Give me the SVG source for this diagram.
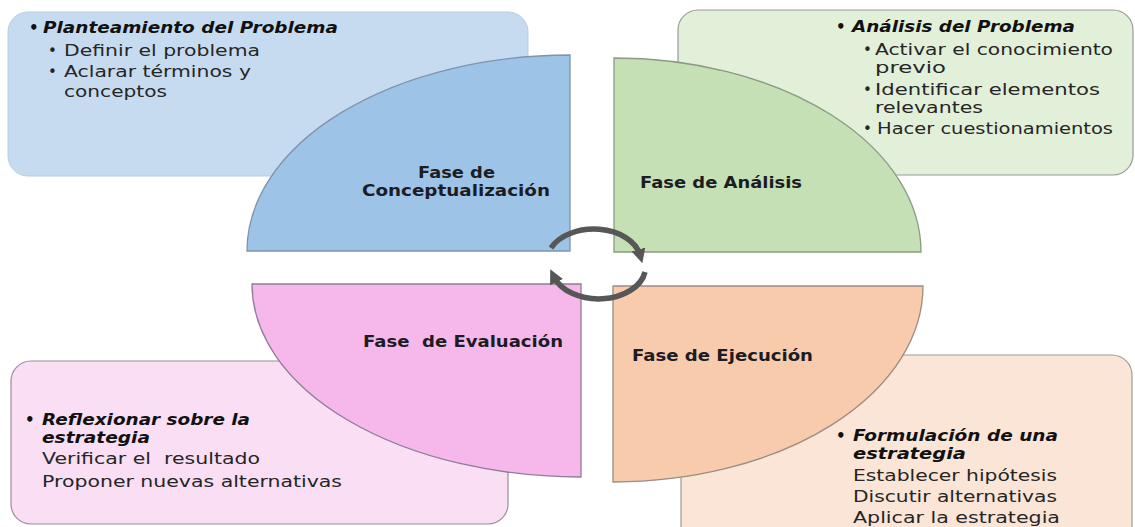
<svg xmlns="http://www.w3.org/2000/svg" width="1135" height="527" viewBox="0 0 1135 527">
<style>
.t{font-family:"DejaVu Sans","Open Sans",sans-serif;font-size:15px;fill:#262626}
.h{font-weight:bold;font-style:italic;fill:#111}
.lbl{font-weight:bold;fill:#1c1c24}
.pre{white-space:pre}
.arr{fill:none;stroke:#575757;stroke-width:5.5}
</style>
<defs>
<marker id="ah" viewBox="0 0 10 10" refX="4" refY="5" markerWidth="2.6" markerHeight="2.8" orient="auto" markerUnits="strokeWidth">
<path d="M0,0 L10,5 L0,10 z" fill="#575757"/>
</marker>
</defs>
<rect width="1135" height="527" fill="#ffffff"/>

<g id="box-planteamiento">
<rect x="8" y="12" width="520" height="164" rx="20" fill="#c7dbf0" stroke="#b9cde2" stroke-width="1"/>
<text class="t h" x="29" y="33">•</text>
<text class="t h" x="43" y="33" textLength="295" lengthAdjust="spacingAndGlyphs">Planteamiento del Problema</text>
<text class="t" x="48" y="56">•</text>
<text class="t" x="64" y="56" textLength="196" lengthAdjust="spacingAndGlyphs">Definir el problema</text>
<text class="t" x="48" y="77">•</text>
<text class="t" x="64" y="77" textLength="187" lengthAdjust="spacingAndGlyphs">Aclarar términos y</text>
<text class="t" x="64" y="97" textLength="103" lengthAdjust="spacingAndGlyphs">conceptos</text>
</g>

<g id="box-analisis">
<rect x="678" y="10" width="455" height="165" rx="20" fill="#e2efd9" stroke="#9a9a9a" stroke-width="1.2"/>
<text class="t h" x="836" y="32">•</text>
<text class="t h" x="852" y="32" textLength="223" lengthAdjust="spacingAndGlyphs">Análisis del Problema</text>
<text class="t" x="863" y="55">•</text>
<text class="t" x="875" y="55" textLength="238" lengthAdjust="spacingAndGlyphs">Activar el conocimiento</text>
<text class="t" x="875" y="73" textLength="71" lengthAdjust="spacingAndGlyphs">previo</text>
<text class="t" x="863" y="95">•</text>
<text class="t" x="875" y="95" textLength="225" lengthAdjust="spacingAndGlyphs">Identificar elementos</text>
<text class="t" x="875" y="113" textLength="108" lengthAdjust="spacingAndGlyphs">relevantes</text>
<text class="t" x="863" y="134">•</text>
<text class="t" x="877" y="134" textLength="236" lengthAdjust="spacingAndGlyphs">Hacer cuestionamientos</text>
</g>

<g id="box-reflexionar">
<rect x="11" y="361" width="497" height="163" rx="20" fill="#f9def4" stroke="#9c8c9c" stroke-width="1.2"/>
<text class="t h" x="25" y="425">•</text>
<text class="t h" x="42" y="425" textLength="208" lengthAdjust="spacingAndGlyphs">Reflexionar sobre la</text>
<text class="t h" x="42" y="443" textLength="108" lengthAdjust="spacingAndGlyphs">estrategia</text>
<text class="t pre" x="42" y="464" textLength="218" lengthAdjust="spacingAndGlyphs">Verificar el  resultado</text>
<text class="t" x="42" y="487" textLength="300" lengthAdjust="spacingAndGlyphs">Proponer nuevas alternativas</text>
</g>

<g id="box-formulacion">
<rect x="681" y="355" width="451" height="190" rx="20" fill="#fbe5d6" stroke="#a09c98" stroke-width="1.2"/>
<text class="t h" x="836" y="441">•</text>
<text class="t h" x="853" y="441" textLength="205" lengthAdjust="spacingAndGlyphs">Formulación de una</text>
<text class="t h" x="853" y="459" textLength="113" lengthAdjust="spacingAndGlyphs">estrategia</text>
<text class="t" x="853" y="481" textLength="204" lengthAdjust="spacingAndGlyphs">Establecer hipótesis</text>
<text class="t" x="853" y="502" textLength="204" lengthAdjust="spacingAndGlyphs">Discutir alternativas</text>
<text class="t" x="853" y="523" textLength="207" lengthAdjust="spacingAndGlyphs">Aplicar la estrategia</text>
</g>

<g id="fase-conceptualizacion">
<path d="M570,251 L247,251 A323,196 0 0,1 570,55 Z" fill="#9dc3e6" stroke="#7f93ab" stroke-width="1.3"/>
<text class="t lbl" x="418" y="178" textLength="77" lengthAdjust="spacingAndGlyphs">Fase de</text>
<text class="t lbl" x="362" y="196" textLength="188" lengthAdjust="spacingAndGlyphs">Conceptualización</text>
</g>

<g id="fase-analisis">
<path d="M614,252 L614,58 A307,194 0 0,1 921,252 Z" fill="#c5e0b4" stroke="#8a9a84" stroke-width="1.3"/>
<text class="t lbl" x="640" y="188" textLength="162" lengthAdjust="spacingAndGlyphs">Fase de Análisis</text>
</g>

<g id="fase-evaluacion">
<path d="M581,284 L252,284 A329,193 0 0,0 581,477 Z" fill="#f6b8ea" stroke="#8e7c9a" stroke-width="1.3"/>
<text class="t lbl pre" x="363" y="347" textLength="200" lengthAdjust="spacingAndGlyphs">Fase  de Evaluación</text>
</g>

<g id="fase-ejecucion">
<path d="M613,286 L923,286 A310,196 0 0,1 613,482 Z" fill="#f8cbad" stroke="#9a8c84" stroke-width="1.3"/>
<text class="t lbl" x="632" y="361" textLength="181" lengthAdjust="spacingAndGlyphs">Fase de Ejecución</text>
</g>

<g id="connectors">
<path class="arr" d="M551,248 A47,32 0 0,1 640,255" marker-end="url(#ah)"/>
<path class="arr" d="M645,272 A47,32 0 0,1 554,277" marker-end="url(#ah)"/>
</g>
</svg>
